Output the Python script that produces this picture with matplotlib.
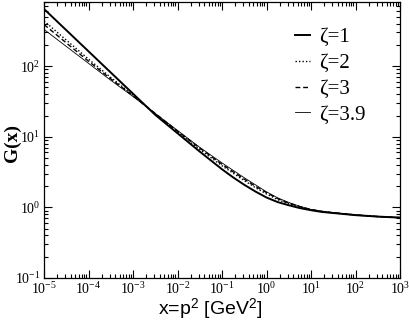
import matplotlib
matplotlib.use("Agg")
import matplotlib.pyplot as plt
from matplotlib.ticker import LogLocator, NullFormatter

plt.rcParams['font.family'] = 'Liberation Serif'
plt.rcParams['mathtext.fontset'] = 'custom'
plt.rcParams['mathtext.rm'] = 'Liberation Serif'
plt.rcParams['mathtext.it'] = 'Liberation Serif:italic'
plt.rcParams['mathtext.sf'] = 'Liberation Sans'

# momentum x = p^2 [GeV^2], quarter-decade steps (exponents of 10)
x_exp = [-5.0, -4.75, -4.5, -4.25, -4.0, -3.75, -3.5, -3.25, -3.0, -2.75, -2.5,
         -2.25, -2.0, -1.75, -1.5, -1.25, -1.0, -0.75, -0.5, -0.25, 0.0, 0.25,
         0.5, 0.75, 1.0, 1.25, 1.5, 1.75, 2.0, 2.25, 2.5, 2.75, 3.0]
x = [10 ** e for e in x_exp]

# G(x) for the four zeta values
g_z1 = [645.7, 457.1, 323.6, 229.1, 162.2, 114.8, 81.28, 57.54, 40.74, 28.84,
        20.42, 15.14, 11.22, 8.318, 6.166, 4.624, 3.467, 2.661, 2.089, 1.679,
        1.380, 1.189, 1.072, 0.977, 0.912, 0.861, 0.832, 0.804, 0.776, 0.759,
        0.741, 0.728, 0.716]
g_z2 = [436.5, 319.9, 234.4, 171.8, 125.9, 93.33, 69.18, 51.88, 38.90, 28.51,
        20.89, 15.67, 11.75, 8.810, 6.607, 5.070, 3.890, 3.055, 2.399, 1.905,
        1.549, 1.288, 1.122, 1.012, 0.923, 0.871, 0.836, 0.807, 0.780, 0.759,
        0.741, 0.728, 0.716]
g_z3 = [389.0, 288.4, 213.8, 158.5, 117.5, 88.10, 66.07, 50.12, 38.02, 28.51,
        21.38, 16.03, 12.02, 9.120, 6.918, 5.309, 4.074, 3.199, 2.512, 1.995,
        1.622, 1.334, 1.148, 1.023, 0.933, 0.877, 0.839, 0.811, 0.783, 0.759,
        0.741, 0.728, 0.716]
g_z39 = [331.1, 251.2, 190.5, 144.5, 109.6, 83.18, 63.10, 48.42, 37.15, 28.18,
         21.38, 16.22, 12.30, 9.333, 7.079, 5.495, 4.266, 3.350, 2.630, 2.089,
         1.660, 1.365, 1.175, 1.035, 0.933, 0.881, 0.841, 0.813, 0.785, 0.759,
         0.741, 0.728, 0.716]

labels = ["ζ=1", "ζ=2", "ζ=3", "ζ=3.9"]

fig = plt.figure(figsize=(4.09, 3.27), dpi=100)
ax = fig.add_axes([44/409, 1-278/327, 356/409, 276/327])

ax.plot(x, g_z1, color='black', lw=1.4, label=labels[0])
ax.plot(x, g_z2, color='black', lw=1.0, linestyle=(0, (1, 1.5)), label=labels[1])
ax.plot(x, g_z3, color='black', lw=1.0, linestyle=(0, (3.5, 2)), label=labels[2])
ax.plot(x, g_z39, color='black', lw=0.6, label=labels[3])

ax.set_xscale('log')
ax.set_yscale('log')
ax.set_xlim(1e-5, 1e3)
ax.set_ylim(0.1, 810)

ax.xaxis.set_major_locator(LogLocator(base=10, numticks=20))
ax.xaxis.set_minor_locator(LogLocator(base=10, subs=range(2, 10), numticks=20))
ax.xaxis.set_minor_formatter(NullFormatter())
ax.yaxis.set_minor_formatter(NullFormatter())

ax.tick_params(which='both', direction='in', top=True, right=True,
               labelsize=10, width=0.8)
ax.tick_params(which='major', length=6, pad=2.5)
ax.tick_params(which='minor', length=3)
for s in ax.spines.values():
    s.set_linewidth(0.9)

ax.set_xlabel("x=p$^{\\mathsf{2}}$ [GeV$^{\\mathsf{2}}$]", family='Liberation Sans',
              fontsize=14)
ax.xaxis.set_label_coords(0.466, -0.068)
ax.set_ylabel("G(x)", family='Liberation Serif', fontweight='bold', fontsize=14)
ax.yaxis.set_label_coords(-0.066, 0.489)

leg = ax.legend(loc='upper left', bbox_to_anchor=((295 - 44) / 356, 0.907),
                frameon=False, borderpad=0, borderaxespad=0,
                prop={'family': 'Liberation Serif', 'size': 15},
                handlelength=0.7, handletextpad=0.45, labelspacing=0.3)

fig.savefig("out.png", dpi=100)
